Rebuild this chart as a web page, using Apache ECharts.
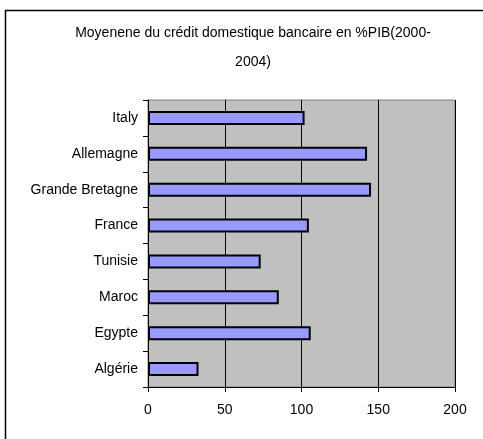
<!DOCTYPE html>
<html>
<head>
<meta charset="utf-8">
<script src="https://cdn.jsdelivr.net/npm/echarts@6/dist/echarts.min.js"></script>
<style>
  html, body { margin: 0; padding: 0; background: #fff; }
  #chart { width: 483px; height: 439px; }
</style>
</head>
<body>
<div id="chart"></div>
<script>
// Bank domestic credit, average % of GDP over 2000-2004 (bottom to top)
const countries = ['Algérie', 'Egypte', 'Maroc', 'Tunisie', 'France', 'Grande Bretagne', 'Allemagne', 'Italy'];
const creditPIB = [32.9, 106, 85.2, 73.4, 104.8, 145.3, 142.7, 102];
const xTicks = [0, 50, 100, 150, 200];

const chart = echarts.init(document.getElementById('chart'), null, { renderer: 'canvas' });
const font = 'Liberation Sans, Arial, sans-serif';

chart.setOption({
  animation: false,
  backgroundColor: '#ffffff',
  title: {
    text: 'Moyenene du crédit domestique bancaire en %PIB(2000-\n2004)',
    left: 248,
    top: 14,
    textAlign: 'center',
    textStyle: { fontFamily: font, fontSize: 14, fontWeight: 'normal', color: '#000', lineHeight: 29 }
  },
  graphic: [{
    type: 'rect',
    shape: { x: 5.5, y: 10.5, width: 600, height: 600 },
    style: { fill: 'none', stroke: '#000', lineWidth: 1.5 },
    silent: true
  }],
  grid: {
    left: 148, right: 28, top: 100, bottom: 52,
    show: true, backgroundColor: '#C0C0C0', borderColor: '#808080', borderWidth: 1
  },
  xAxis: {
    type: 'value',
    min: xTicks[0], max: xTicks[xTicks.length - 1], interval: 50,
    axisLine: { show: true, lineStyle: { color: '#000', width: 1 } },
    axisTick: { show: true, length: 5, lineStyle: { color: '#000' } },
    axisLabel: { fontFamily: font, fontSize: 14, color: '#000', margin: 16 },
    splitLine: { show: true, lineStyle: { color: '#000', width: 1 } }
  },
  yAxis: {
    type: 'category',
    data: countries,
    axisLine: { show: true, lineStyle: { color: '#000', width: 1 } },
    axisTick: { show: true, length: 5, interval: 0, lineStyle: { color: '#000' } },
    axisLabel: { fontFamily: font, fontSize: 14, color: '#000', margin: 10 },
    splitLine: { show: false }
  },
  series: [{
    type: 'bar',
    data: creditPIB,
    barWidth: 14,
    itemStyle: { color: '#9999FF', borderColor: '#000', borderWidth: 2 }
  }]
});
</script>
</body>
</html>
